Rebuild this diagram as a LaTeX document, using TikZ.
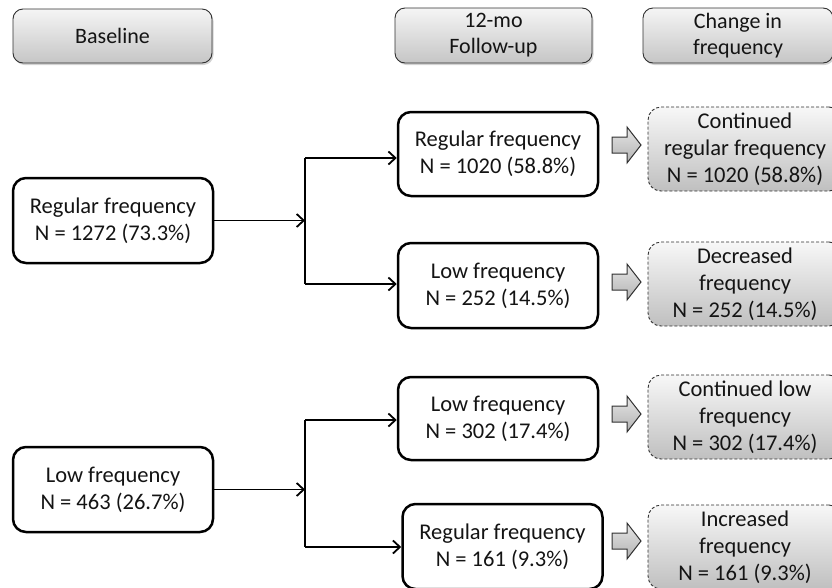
\documentclass[tikz,border=0pt]{standalone}
\usepackage{fontspec}
\setmainfont{Carlito}
\usetikzlibrary{arrows.meta,shadows}
\definecolor{txt}{HTML}{141414}
\definecolor{edge}{HTML}{303030}
\tikzset{
  hdr/.style={draw=edge, line width=0.9pt, rounded corners=10pt, top color=gray!8, bottom color=gray!45,
    drop shadow={opacity=0.35, shadow xshift=1.5pt, shadow yshift=-2pt},
    align=center, text=txt, font=\fontsize{22}{26}\selectfont, inner sep=0pt},
  solidbox/.style={draw=black, line width=2.5pt, rounded corners=13pt, fill=white,
    align=center, text=txt, font=\fontsize{22.5}{27}\selectfont, minimum width=200pt, minimum height=85pt, inner sep=0pt},
  dashbox/.style={draw=edge, line width=0.9pt, dashed, dash pattern=on 3pt off 2pt, rounded corners=13pt,
    top color=gray!6, bottom color=gray!50, align=center, text=txt,
    font=\fontsize{22.5}{27}\selectfont, minimum width=194pt, minimum height=84pt, inner sep=0pt},
  conn/.style={line width=1.8pt, -{Straight Barb[length=7pt,width=13pt,line width=1.8pt]}},
  plainline/.style={line width=1.8pt},
  blockarrow/.style={draw=edge, line width=1pt, top color=gray!20, bottom color=gray!60, line join=miter}
}
\begin{document}
\begin{tikzpicture}[x=1pt,y=-1pt]
\useasboundingbox (0,0) rectangle (832,587);

% headers
\node[hdr, minimum width=199pt, minimum height=54pt] (hb) at (112.5,36) {Baseline};
\node[hdr, minimum width=197pt, minimum height=55pt] (hf) at (493.5,35.5) {12-mo\\Follow-up};
\node[hdr, minimum width=190pt, minimum height=55pt] (hc) at (738,35.5) {Change in\\frequency};

% baseline boxes
\node[solidbox] (b1) at (113,220.5) {Regular frequency\\N = 1272 (73.3\%)};
\node[solidbox] (b2) at (113,489.5) {Low frequency\\N = 463 (26.7\%)};

% follow-up boxes
\node[solidbox, minimum height=84pt] (f1) at (498,154) {Regular frequency\\N = 1020 (58.8\%)};
\node[solidbox] (f2) at (498,285.5) {Low frequency\\N = 252 (14.5\%)};
\node[solidbox, minimum height=83pt] (f3) at (498,418.5) {Low frequency\\N = 302 (17.4\%)};
\node[solidbox] (f4) at (502.5,546.5) {Regular frequency\\N = 161 (9.3\%)};

% change boxes
\node[dashbox] (c1) at (745,149) {Continued\\regular frequency\\N = 1020 (58.8\%)};
\node[dashbox] (c2) at (745,284) {Decreased\\frequency\\N = 252 (14.5\%)};
\node[dashbox] (c3) at (745,417) {Continued low\\frequency\\N = 302 (17.4\%)};
\node[dashbox] (c4) at (745,547) {Increased\\frequency\\N = 161 (9.3\%)};

% junctions
\coordinate (j1) at (305,220.5);
\coordinate (j1t) at (305,158);
\coordinate (j1b) at (305,284);
\coordinate (j2) at (305,489.5);
\coordinate (j2t) at (305,420);
\coordinate (j2b) at (305,547);

\draw[conn] (b1.east) -- (j1);
\draw[plainline] (j1t) -- (j1b);
\draw[conn] (j1t) -- (j1t -| f1.west);
\draw[conn] (j1b) -- (j1b -| f2.west);

\draw[conn] (b2.east) -- (j2);
\draw[plainline] (j2t) -- (j2b);
\draw[conn] (j2t) -- (j2t -| f3.west);
\draw[conn] (j2b) -- (j2b -| f4.west);

% block arrows
\foreach \yy in {145,282,414,541}{
  \draw[blockarrow] (612,\yy-8) -- (627,\yy-8) -- (627,\yy-18) -- (641,\yy) -- (627,\yy+18) -- (627,\yy+8) -- (612,\yy+8) -- cycle;
}
\end{tikzpicture}
\end{document}
